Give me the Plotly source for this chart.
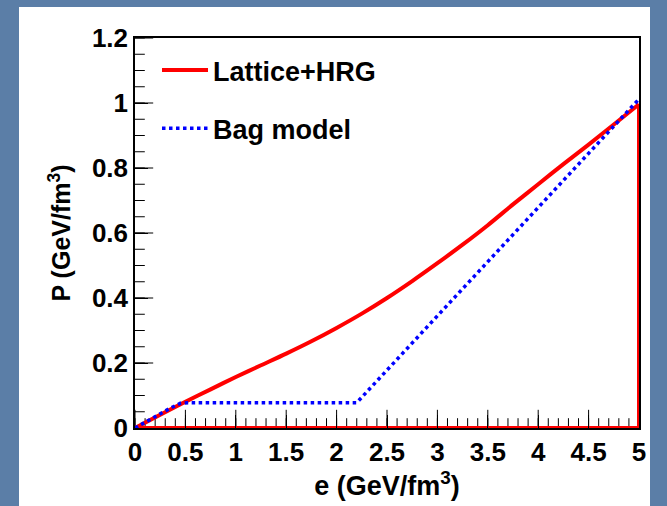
import plotly.graph_objects as go

# Lattice+HRG equation of state
lat_e = [0, 0.25, 0.5, 0.75, 1.0, 1.25, 1.5, 1.75, 2.0, 2.25, 2.5, 2.75, 3.0, 3.25, 3.5, 3.75, 4.0, 4.25, 4.5, 4.75, 5.0]
lat_p = [0, 0.041, 0.081, 0.119, 0.157, 0.193, 0.229, 0.267, 0.308, 0.352, 0.400, 0.452, 0.507, 0.564, 0.624, 0.688, 0.750, 0.812, 0.872, 0.934, 0.996]
# closing segments drawn by the original (right edge and along x-axis)
close_e = [5.0, 5.0, 0.0]
close_p = [0.996, 0.0, 0.0]

# Bag model
bag_e = [0, 0.15, 0.35, 0.45, 0.55, 2.2, 5.0]
bag_p = [0, 0.027, 0.061, 0.076, 0.078, 0.078, 1.012]

# axis tick values
x_major = [0, 0.5, 1.0, 1.5, 2.0, 2.5, 3.0, 3.5, 4.0, 4.5, 5.0]
y_major = [0, 0.2, 0.4, 0.6, 0.8, 1.0, 1.2]
x_minor = [i / 10 for i in range(51)]
y_minor = [i / 20 for i in range(25)]

FONT = "Liberation Sans, Arial, sans-serif"
SLIDE_BLUE = "#5b7ea7"

fig = go.Figure()

# inside tick marks (half of each marker is clipped away by the plot area)
def tick_trace(xs, ys, symbol, size):
    return go.Scatter(x=xs, y=ys, mode="markers", showlegend=False, hoverinfo="skip",
                      cliponaxis=True,
                      marker=dict(symbol=symbol, size=size, color="black",
                                  line=dict(width=1, color="black")))

fig.add_trace(tick_trace(x_minor, [0] * len(x_minor), "line-ns-open", 14))
fig.add_trace(tick_trace(x_major, [0] * len(x_major), "line-ns-open", 26))
fig.add_trace(tick_trace([0] * len(y_minor), y_minor, "line-ew-open", 14))
fig.add_trace(tick_trace([0] * len(y_major), y_major, "line-ew-open", 26))

fig.add_trace(go.Scatter(
    x=close_e, y=close_p, mode="lines", showlegend=False, hoverinfo="skip",
    line=dict(color="#ff0000", width=4)))
fig.add_trace(go.Scatter(
    x=lat_e, y=lat_p, mode="lines", name="Lattice+HRG",
    line=dict(color="#ff0000", width=4, shape="spline", smoothing=0.8), legendgroup="a"))
fig.add_trace(go.Scatter(
    x=bag_e, y=bag_p, mode="lines", name="Bag model",
    line=dict(color="#0000ff", width=3.5, dash="dot"), legendgroup="b"))

W, H = 667, 506
L, R, T, B = 135, 28, 38, 78
pw, ph = W - L - R, H - T - B
def px(x): return (x - L) / pw
def py(y): return (H - B - y) / ph

def strip(x0, x1, y0, y1):
    return dict(type="rect", xref="paper", yref="paper",
                x0=px(x0), x1=px(x1), y0=py(y0), y1=py(y1),
                fillcolor=SLIDE_BLUE, line=dict(width=0), layer="above")

fig.update_layout(
    width=W, height=H,
    margin=dict(l=L, r=R, t=T, b=B),
    paper_bgcolor="white",
    plot_bgcolor="white",
    showlegend=True,
    legend=dict(x=px(157), y=py(46), xanchor="left", yanchor="top",
                bgcolor="rgba(0,0,0,0)", tracegroupgap=20, itemwidth=46,
                font=dict(family=FONT, size=27, color="black", weight="bold")),
    font=dict(family=FONT, color="black"),
    shapes=[
        strip(-2, 19, -2, 510),    # left slide border
        strip(-2, 670, -2, 7),     # top slide border
        strip(650, 670, -2, 510),  # right slide border
    ],
)
fig.update_xaxes(
    range=[0, 5], tickmode="array", tickvals=x_major,
    ticks="inside", ticklen=13, tickwidth=1, tickcolor="black",
    showline=True, linecolor="black", linewidth=1.5, mirror=True,
    showgrid=False, zeroline=False,
    tickfont=dict(family=FONT, size=26, weight="bold"),
    title=dict(text="e (GeV/fm<sup>3</sup>)", standoff=0,
               font=dict(family=FONT, size=27, weight="bold")),
)
fig.update_yaxes(
    range=[0, 1.2], tickmode="array", tickvals=y_major,
    ticks="inside", ticklen=13, tickwidth=1, tickcolor="black",
    showline=True, linecolor="black", linewidth=1.5, mirror=True,
    showgrid=False, zeroline=False,
    tickfont=dict(family=FONT, size=26, weight="bold"),
    title=dict(text="P (GeV/fm<sup>3</sup>)", standoff=14,
               font=dict(family=FONT, size=25, weight="bold")),
)

fig.write_html("out.html")
